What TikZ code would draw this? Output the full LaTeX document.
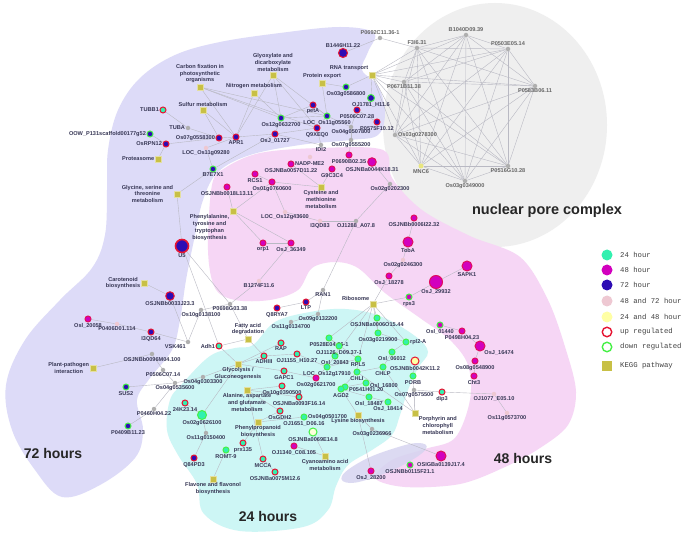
\documentclass[tikz,border=0pt]{standalone}
\usepackage{fontspec}
\setmainfont{Liberation Sans}
\newfontfamily\legfont{Liberation Mono}
\usetikzlibrary{backgrounds}
\definecolor{lav}{RGB}{221,219,248}
\definecolor{pinkr}{RGB}{246,214,245}
\definecolor{cyanr}{RGB}{205,246,245}
\definecolor{grayr}{RGB}{239,239,239}
\definecolor{ellc}{RGB}{214,212,240}
\definecolor{c24}{RGB}{50,240,175}
\definecolor{c48}{RGB}{210,0,190}
\definecolor{c72}{RGB}{45,12,180}
\definecolor{c4872}{RGB}{238,200,210}
\definecolor{c2448}{RGB}{255,255,165}
\definecolor{upc}{RGB}{230,20,50}
\definecolor{dnc}{RGB}{70,240,70}
\definecolor{keggc}{RGB}{200,192,70}
\definecolor{edgec}{RGB}{185,185,195}
\definecolor{lblc}{RGB}{55,55,85}
\definecolor{dotc}{RGB}{175,175,175}
\tikzset{
  gene/.style={circle,inner sep=0pt,minimum size=6pt,line width=1pt},
  n72u/.style={gene,fill=c72,draw=upc},
  n72d/.style={gene,fill=c72,draw=dnc},
  n48u/.style={gene,fill=c48,draw=upc!70!c48},
  n48d/.style={gene,fill=c48,draw=dnc},
  n24u/.style={gene,fill=c24,draw=upc},
  n24d/.style={gene,fill=c24,draw=dnc},
  n2448u/.style={gene,fill=c2448,draw=upc},
  n2448d/.style={gene,fill=c2448!40!white,draw=dnc},
  gdot/.style={circle,inner sep=0pt,minimum size=4.5pt,fill=dotc},
  pdot/.style={circle,inner sep=0pt,minimum size=4.5pt,fill=c4872},
  ydot/.style={circle,inner sep=0pt,minimum size=5pt,fill=c2448!60!keggc},
  kegg/.style={rectangle,inner sep=0pt,minimum size=6pt,fill=keggc,draw=keggc!50!white,line width=0.5pt},
  lbl/.style={font=\fontsize{5.6}{6.8}\selectfont\bfseries,text=lblc,inner sep=0.4pt,align=center},
  nlbl/.style={lbl,text=black!60},
  every label/.style={lbl},
  label distance=0pt,
  edge/.style={draw=edgec,line width=0.4pt},
  big/.style={font=\fontsize{14}{16}\selectfont\bfseries,text=black!85},
  leg/.style={font=\legfont\fontsize{7.3}{8}\selectfont,text=black!75,anchor=west,inner sep=0pt}
}
\newcommand\G[5][below]{\node[#2,label={#1:{#5}}] (#3) at (#4) {};}
\begin{document}
\begin{tikzpicture}[x=1pt,y=-1pt]
\useasboundingbox (0,0) rectangle (685,534);
\begin{scope}[on background layer]
\fill[white] (0,0) rectangle (685,534);
\fill[grayr] (495,125) ellipse [x radius=112pt, y radius=122pt];
\fill[lav] plot[smooth cycle,tension=0.6] coordinates {(108,150) (107,190) (105,235) (92,268) (60,300) (25,340) (6,385) (12,430) (35,470) (62,497) (100,485) (135,458) (143,430) (137,400) (150,378) (172,350) (180,320) (186,280) (194,240) (203,200) (218,172) (250,155) (300,145) (350,140) (378,135) (385,112) (378,86) (362,70) (368,52) (374,33) (340,27) (280,33) (220,42) (175,55) (140,78) (118,110)};
\fill[pinkr] plot[smooth cycle,tension=0.55] coordinates {(212,185) (225,168) (260,153) (320,148) (383,150) (392,178) (422,210) (470,236) (520,257) (548,300) (566,350) (576,392) (568,425) (540,448) (505,467) (460,484) (405,487) (375,478) (392,460) (425,449) (455,438) (470,400) (468,365) (450,340) (420,318) (385,293) (358,268) (335,262) (312,268) (298,290) (270,300) (235,300) (215,288) (208,250)};
\fill[cyanr] plot[smooth cycle,tension=0.6] coordinates {(253,345) (275,322) (310,312) (345,309) (380,316) (415,336) (428,352) (418,368) (408,390) (400,415) (392,435) (372,450) (348,465) (336,486) (328,510) (303,527) (240,531) (204,514) (197,484) (178,455) (167,430) (170,400) (182,384) (210,356) (235,348)};
\fill[ellc,opacity=0.85] plot[smooth cycle,tension=0.7] coordinates {(342,476) (362,461) (392,449) (418,443) (426,449) (405,464) (375,477) (350,483)};
\end{scope}

% ---------- nuclear pore complex ----------
\node[gdot,label={[nlbl]above:{P0692C11.36-1}}] (np0692) at (380,38) {};
\node[gdot,label={[nlbl]above:{F3I6.31}}] (nf3) at (417,48) {};
\node[gdot,label={[nlbl]above:{B1040D09.39}}] (nb10) at (466,35) {};
\node[gdot,label={[nlbl]above:{P0503E05.14}}] (np5) at (508,49) {};
\node[gdot,label={[nlbl]below:{P0583B06.11}}] (np8) at (535,86) {};
\node[gdot,label={[nlbl]below:{P0671B11.38}}] (np7) at (404,82) {};
\node[gdot,label={[nlbl]right:{Os03g0278300}}] (no2) at (395,135) {};
\node[ydot,label={[nlbl]below:{MNC6}}] (nm) at (421,166) {};
\node[gdot,label={[nlbl]below:{P0516G10.28}}] (np6) at (508,166) {};
\node[gdot,label={[nlbl]below:{Os03g0349000}}] (no9) at (465,181) {};

% ---------- KEGG pathways ----------
\G[above]{kegg}{kcarb}{200,87}{Carbon fixation in\\photosynthetic\\organisms}
\G[above]{kegg}{kglyox}{273,75}{Glyoxylate and\\dicarboxylate\\metabolism}
\G[above]{kegg}{knitro}{254,93}{Nitrogen metabolism}
\G[above]{kegg}{ksulf}{203,110}{Sulfur metabolism}
\G[above]{kegg}{kprotex}{322,83}{Protein export}
\G[above left]{kegg}{krna}{372,75}{RNA transport}
\G[left]{kegg}{kprot}{158,159}{Proteasome}
\G[left]{kegg}{kgly}{177,194}{Glycine, serine and\\threonine\\metabolism}
\G[left]{kegg}{kcarot}{144,283}{Carotenoid\\biosynthesis}
\G[below left]{kegg}{kphe}{233,211}{Phenylalanine,\\tyrosine and\\tryptophan\\biosynthesis}
\G{kegg}{kcys}{321,187}{Cysteine and\\methionine\\metabolism}
\G[above]{kegg}{kfat}{248,339}{Fatty acid\\degradation}
\G[left]{kegg}{kplant}{93,368}{Plant-pathogen\\interaction}
\G[above left]{kegg}{kribo}{373,304}{Ribosome}
\G{kegg}{kglyco}{238,364}{Glycolysis /\\Gluconeogenesis}
\G{kegg}{kala}{247,390}{Alanine, aspartate\\and glutamate\\metabolism}
\G{kegg}{kphen}{258,422}{Phenylpropanoid\\biosynthesis}
\G{kegg}{kflav}{213,479}{Flavone and flavonol\\biosynthesis}
\G{kegg}{kcyan}{325,456}{Cyanoamino acid\\metabolism}
\G{kegg}{klys}{358,415}{Lysine biosynthesis}
\G[below right]{kegg}{kporph}{415,413}{Porphyrin and\\chlorophyll\\metabolism}

% ---------- 72 h region ----------
\G[left]{n24u}{tubb}{163,110}{TUBB1}
\G[left]{n72d}{oow}{150,134}{OOW\_P131scaffold00177g52}
\G[left]{n72u}{rpn}{166,144}{OsRPN12}
\G[left]{gdot}{tuba}{188,128}{TUBA}
\G[left]{n72u}{osa}{219,138}{Os07g0558300}
\G{n72u}{apr}{236,137}{APR1}
\G{pdot}{loc9280}{206,148}{LOC\_Os11g09280}
\G{n72u}{osj1727}{275,134}{OsJ\_01727}
\G{n72d}{os632}{281,118}{Os12g0632700}
\G{n72u}{peta}{313,105}{petA}
\G{n72d}{loc5560}{327,116}{LOC\_Os11g05560}
\G{n72u}{q9x}{317,128}{Q9XEQ0}
\G{gdot}{idi}{321,145}{IDI2}
\G[above]{n72u,minimum size=9pt}{b1446}{343,53}{B1446H11.22}
\G{n72d}{os586}{346,87}{Os03g0586800}
\G{n72d,minimum size=7pt}{oj1781}{371,98}{OJ1781\_H11.6}
\G{n72u}{p0506c}{357,110}{P0506C07.28}
\G{n72u}{p0575}{377,122}{P0575F10.12}
\G{gdot}{os507}{351,127}{Os04g0507800}
\G{gdot}{os555}{351,140}{Os07g0555200}
\G{n48u}{p0690}{349,155}{P0690B02.35}
\G{n48u,minimum size=8.5pt}{osj44}{372,162}{OSJNBa0044K18.31}
\G{n72d}{b7e}{213,169}{B7E7X1}
\G[right]{n48u}{nadp}{291,164}{NADP-ME2}
\node[pdot,label={[xshift=-19pt,yshift=-9pt]below:{OSJNBa0057D11.22}}] (osj57) at (310,157) {};
\G{n48u}{g9c}{332,169}{G9C3C4}
\G{n48u}{rcs}{255,174}{RCS1}
\G{n48u}{os7606}{272,182}{Os01g0760600}
\G{n48u}{osjb18}{227,187}{OSJNBb0018L13.11}
\G{pdot}{loc436}{285,212}{LOC\_Os12g43600}
\G{pdot}{i3qd83}{320,221}{I3QD83}
\G{gdot}{oj1288}{356,221}{OJ1288\_A07.8}
\G{n72u,minimum size=13pt,line width=1.6pt}{u5}{182,246}{U5}
\G{n48u}{orp}{263,243}{orp1}
\G{n48u}{osj36}{291,243}{OsJ\_36349}
\G{pdot}{b1274}{259,281}{B1274F11.6}
\G{gdot}{os2023}{390,184}{Os02g0202300}
\G{n48u}{osjb6}{414,218}{OSJNBb0006I22.32}
\G{n48u,minimum size=10pt}{toba}{408,242}{TobA}
\G{pdot}{os2463}{403,260}{Os02g0246300}
\G{n48u}{osj18278}{389,276}{OsJ\_18278}
\G{n48u,minimum size=10pt}{sapk}{467,266}{SAPK1}
\G{n48u,minimum size=13pt}{osj29}{436,282}{OsJ\_29932}
\G{n48d}{rps3}{409,297}{rps3}
\G{n72u,minimum size=8.5pt}{osjb33}{170,296}{OSJNBb0033J23.3}
\G{n48u}{osl20058}{88,319}{Osl\_20058}
\G{pdot}{p0406}{117,324}{P0406D01.114}
\G{n72u}{i3qd64}{151,332}{I3QD64}
\G{gdot}{os1381}{201,310}{Os10g0138100}
\G{gdot}{p0698}{230,304}{P0698G03.38}
\G{n72u}{q8r}{277,308}{Q8RYA7}
\G{n72u}{ltp}{306,302}{LTP}
\G{gdot}{ran}{323,290}{RAN1}
\G{gdot}{os0913}{318,314}{Os09g0132200}
\G{gdot}{os1113}{291,322}{Os11g0134700}
\G[below left]{gdot}{vsk}{188,342}{VSK461}
\G{gdot}{osjb96}{152,354}{OSJNBb0096M04.100}
\G{gdot}{p0506d}{163,370}{P0506C07.14}
\G{n72d}{sus}{126,387}{SUS2}
\G{gdot}{p0460}{154,409}{P0460H04.22}
\G{n72d}{p0409}{128,426}{P0409B11.23}
\G{gdot}{os5356}{175,383}{Os04g0535600}
\G{gdot}{os3033}{203,377}{Os04g0303300}

% ---------- 24 h region ----------
\G[left]{n24u}{adh1}{219,346}{Adh1}
\G{n24u}{adh3}{264,356}{ADHIII}
\G{n24u}{rap}{281,343}{RAP}
\G{n24u}{gapc}{284,371}{GAPC1}
\G{n24u}{oj1155}{297,354}{OJ1155\_H10.27}
\G{n24d}{osl20843}{335,356}{Osl\_20843}
\G{n24d}{loc179}{327,367}{LOC\_Os12g17910}
\G{n48u}{os6217}{316,378}{Os02g0621700}
\G{n24u}{os3905}{282,386}{Os10g0390500}
\G{n24u}{osjnba93}{299,397}{OSJNBa0093F16.14}
\G{n24u}{gdh}{280,411}{OsGDH2}
\node[n24d,label={below:{OJ1651\_D06.16}},label={right:{Os04g0501700}}] (os5017) at (304,417) {};
\G{n2448d,minimum size=8pt}{osjnba69}{313,432}{OSJNBa0069E14.8}
\G{n48u}{oj1340}{294,446}{OJ1340\_C08.105}
\G{n24u}{k24}{185,403}{24K23.14}
\G{n24d,minimum size=9pt}{os6261}{202,415}{Os02g0626100}
\G{gdot}{os1504}{206,433}{Os11g0150400}
\G{n24d}{romt}{226,450}{ROMT-9}
\G{n24u}{prx}{243,443}{prx135}
\G{n72u}{q84}{194,458}{Q84PD3}
\G{n24u}{mcca}{263,459}{MCCA}
\G{n24u}{osjnba75}{275,472}{OSJNBa0075M12.6}
\G{n24d}{p0528}{329,338}{P0528E04.36-1}
\G{n24d}{osjnba6}{377,318}{OSJNBa0006O15.44}
\G{n24d}{os2199}{378,333}{Os03g0219900}
\G[right]{n24d}{rpl2}{406,342}{rpl2-A}
\G{n24d}{oj1126}{339,346}{OJ1126\_D09.37-1}
\G{n24d}{rpl5}{358,359}{RPL5}
\G{n24d}{chli}{357,372}{CHLI}
\G{n24d}{chlp}{383,367}{CHLP}
\G{n24d}{osl06}{392,352}{Osl\_06012}
\G{n2448u,minimum size=8pt}{osjb42}{415,361}{OSJNBb0042K11.2}
\G{n24d}{porb}{413,376}{PORB}
\node[n24d,label={[yshift=-3pt]right:{Osl\_16800}}] (osl168) at (366,383) {};
\node[n24d,label={[yshift=-3pt]right:{P0541H01.20}}] (p0541) at (345,387) {};
\G{n24d}{agd}{341,389}{AGD2}
\G{n24d}{osl184}{369,397}{Osl\_18487}
\G{n24d}{osj184}{388,402}{OsJ\_18414}
\G{gdot}{os0757}{414,390}{Os07g0575500}
\G{n24u}{dip}{442,392}{dip3}
\G{gdot}{os0323}{372,429}{Os03g0236966}

% ---------- 48 h region ----------
\G{n48d}{osl014}{440,325}{Osl\_01440}
\G{n48u}{p0498}{462,331}{P0498H04.23}
\G[below right]{n48u,minimum size=10pt}{osj164}{480,346}{OsJ\_16474}
\G{n48u}{os0854}{475,361}{Os08g0548900}
\G{n48u}{cht}{474,376}{Cht3}
\G{pdot}{oj1077}{494,394}{OJ1077\_E05.10}
\G{pdot}{os1157}{507,413}{Os11g0573700}
\G{n48u,minimum size=10pt}{osig}{441,456}{OSIGBa0139J17.4}
\G{n48d}{osjb115}{410,465}{OSJNBb0115F21.1}
\G{n48u}{osj282}{371,471}{OsJ\_28200}

% ---------- region titles ----------
\node[big] (t72) at (53,453) {72 hours};
\node[big] (t24) at (268,516) {24 hours};
\node[big] (t48) at (523,458) {48 hours};
\node[big,font=\fontsize{14.5}{16}\selectfont\bfseries] (tnpc) at (547,211) {nuclear pore complex};

% ---------- legend ----------
\node[circle,fill=c24,minimum size=11pt,inner sep=0pt] (l1) at (607,255) {};
\node[circle,fill=c48,minimum size=11pt,inner sep=0pt] (l2) at (607,270) {};
\node[circle,fill=c72,minimum size=11pt,inner sep=0pt] (l3) at (607,285) {};
\node[circle,fill=c4872,minimum size=11pt,inner sep=0pt] (l4) at (607,301) {};
\node[circle,fill=c2448,minimum size=11pt,inner sep=0pt] (l5) at (607,317) {};
\node[circle,draw=upc,line width=1.4pt,fill=white,minimum size=9.5pt,inner sep=0pt] (l6) at (607,332) {};
\node[circle,draw=dnc,line width=1.4pt,fill=white,minimum size=9.5pt,inner sep=0pt] (l7) at (607,347) {};
\node[rectangle,fill=keggc,minimum size=10pt,inner sep=0pt] (l8) at (607,366) {};
\node[leg] (t1) at (620,255) {24 hour};
\node[leg] (t2) at (620,270) {48 hour};
\node[leg] (t3) at (620,285) {72 hour};
\node[leg] (t4) at (620,301) {48 and 72 hour};
\node[leg] (t5) at (620,317) {24 and 48 hour};
\node[leg] (t6) at (620,332) {up regulated};
\node[leg] (t7) at (620,347) {down regulated};
\node[leg] (t8) at (620,366) {KEGG pathway};

% ---------- edges ----------
\begin{scope}[on background layer]
\foreach \a/\b in {nf3/nb10,nf3/np5,nf3/np8,nf3/np7,nf3/no2,nf3/nm,nf3/np6,nf3/no9,
  nb10/np5,nb10/np8,nb10/np7,nb10/no2,nb10/nm,nb10/np6,nb10/no9,
  np5/np8,np5/np7,np5/no2,np5/nm,np5/np6,np5/no9,
  np8/np7,np8/no2,np8/nm,np8/np6,np8/no9,
  np7/no2,np7/nm,np7/np6,np7/no9,
  no2/nm,no2/np6,no2/no9,nm/np6,nm/no9,np6/no9,
  krna/nf3,krna/nb10,krna/np5,krna/np8,krna/np7,krna/no2,krna/nm,krna/np6,krna/no9,
  np0692/nf3,b1446/np0692,krna/os586,krna/oj1781}
  \draw[edge] (\a) -- (\b);
\foreach \a/\b in {rpn/kprot,rpn/oow,rpn/osa,tubb/tuba,tuba/osa,osa/apr,apr/osj1727,
  kcarb/os632,kcarb/loc5560,kcarb/q9x,kcarb/apr,kglyox/os632,kglyox/q9x,kglyox/loc5560,kglyox/apr,
  knitro/apr,knitro/os632,ksulf/apr,ksulf/osa,kprotex/loc5560,kprotex/os586,
  osj1727/q9x,osj1727/os632,peta/loc5560,peta/os632,os632/loc5560,q9x/loc5560,
  loc5560/os507,p0506c/os507,p0575/p0506c,os507/os555,os555/p0690,idi/q9x,idi/osj1727,
  loc9280/apr,loc9280/b7e,b7e/kgly,kgly/u5,b7e/osj1727,osj44/os2023,
  rcs/os7606,os7606/loc436,os7606/kphe,osjb18/kphe,kphe/orp,kphe/osj36,orp/osj36,
  kcys/g9c,kcys/os7606,kcys/nadp,loc436/i3qd83,i3qd83/oj1288,oj1288/os2023,oj1288/ran,
  osj36/b1274,b1274/p0698,os2463/osj18278,osj18278/kribo,kribo/rps3,rps3/osj29,osj29/sapk,
  toba/os2463,osjb6/toba,
  kcarot/osjb33,osjb33/vsk,osl20058/p0406,p0406/i3qd64,i3qd64/vsk,u5/p0698,u5/adh1,
  os1381/p0698,os1381/vsk,p0698/kfat,kfat/adh1,kfat/adh3,
  kplant/osjb96,osjb96/p0506d,p0506d/os5356,sus/os5356,p0409/p0460,p0460/os5356,os5356/os3033,
  os3033/kglyco,adh1/kglyco,adh3/kglyco,gapc/kglyco,rap/kglyco,q8r/ltp,ltp/ran,ran/os0913,os0913/os1113,
  kala/os3905,kala/gdh,kala/osjnba93,kphen/prx,kphen/os5017,kphen/gdh,kflav/romt,kcyan/oj1340,kcyan/osjnba69,
  os6261/k24,os6261/os1504,os1504/q84,os6261/kglyco,mcca/osjnba75,mcca/kala,
  kribo/osjnba6,kribo/os2199,kribo/rpl2,kribo/p0528,kribo/rpl5,kribo/osl20843,
  p0528/oj1126,p0528/rpl5,oj1126/osl20843,osl20843/loc179,loc179/rpl5,rpl5/chli,chli/chlp,chlp/osl06,
  osl06/rpl2,os2199/rpl2,osjnba6/os2199,agd/chli,agd/osl184,osl184/osj184,osl168/p0541,
  porb/kporph,chli/kporph,chlp/kporph,osjb42/porb,os0757/kporph,os0757/dip,dip/oj1077,oj1077/os1157,
  klys/agd,klys/osj282,os0323/osig,os0323/klys,osl014/p0498,p0498/osj164,osj164/os0854,os0854/cht,
  loc179/oj1155,oj1155/adh3,os6217/gapc,os6217/loc179}
  \draw[edge] (\a) -- (\b);
\end{scope}
\end{tikzpicture}
\end{document}
